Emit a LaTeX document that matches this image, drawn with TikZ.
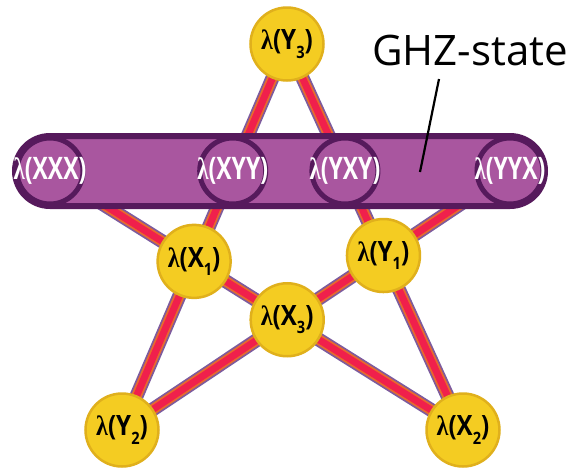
\documentclass[tikz,border=0pt]{standalone}
\usepackage{fontspec}
\setmainfont{Open Sans}
\newfontfamily\ylwfont[FakeStretch=0.86]{Open Sans}
\newfontfamily\ylwlam[FakeStretch=0.86]{Liberation Serif}
\newfontfamily\narrowfont[FakeStretch=0.74]{Open Sans}
\newfontfamily\narrowlam[FakeStretch=0.74]{Liberation Serif}

\definecolor{ylw}{HTML}{F4CC22}
\definecolor{ylwedge}{HTML}{E0B01C}
\definecolor{pfill}{HTML}{A9569F}
\definecolor{pdark}{HTML}{561A5C}
\definecolor{beamred}{HTML}{F0204C}
\definecolor{beamorange}{HTML}{E86A2C}
\definecolor{beampurple}{HTML}{7D5B9E}

\pgfdeclarelayer{beams}
\pgfdeclarelayer{bar}
\pgfsetlayers{beams,bar,main}

% yellow label: lambda(<letter><index>)
\newcommand\ylab[2]{\fontsize{28}{28}\selectfont\ylwfont\bfseries{\ylwlam λ}(#1\raisebox{-0.3em}{\fontsize{17}{17}\selectfont #2})}
% purple label: lambda(<triple>)
\newcommand\plab[1]{\fontsize{31}{31}\selectfont\narrowfont\bfseries{\narrowlam λ}(#1)}

\begin{document}
\begin{tikzpicture}[x=1pt,y=-1pt,
  beam/.style={draw=beamred, line width=7pt,
    preaction={draw=beampurple, line width=14pt},
    preaction={draw=beamorange, line width=10.5pt}},
  ynode/.style={circle, fill=ylw, draw=ylwedge, line width=2.5pt,
    minimum size=73pt, inner sep=0pt},
  pnode/.style={circle, fill=pfill, draw=pdark, line width=5pt,
    minimum size=66pt, inner sep=0pt},
  ytext/.style={text=black, inner sep=0pt},
  ptext/.style={text=white, inner sep=0pt},
  pointer/.style={draw=black, line width=2.2pt}]

\begin{pgfonlayer}{beams}
\fill[white] (0,0) rectangle (574,469);
\end{pgfonlayer}
\useasboundingbox (0,0) rectangle (574,469);

% outer points of the pentagram
\coordinate (pY3)  at (287,44);
\coordinate (pXXX) at (50,171);
\coordinate (pYYX) at (510,171);
\coordinate (pY2)  at (122,430);
\coordinate (pX2)  at (463,430);

% inner crossings
\coordinate (pX1) at (intersection of pY3--pY2 and pXXX--pX2);
\coordinate (pY1) at (intersection of pY3--pX2 and pYYX--pY2);
\coordinate (pX3) at (intersection of pXXX--pX2 and pYYX--pY2);
\coordinate (pXYY) at (intersection of pY3--pY2 and pXXX--pYYX);
\coordinate (pYXY) at (intersection of pY3--pX2 and pXXX--pYYX);

% purple nodes on the bar
\node[pnode] (XXX) at (pXXX) {};
\node[pnode] (YYX) at (pYYX) {};
\node[pnode] (XYY) at (pXYY) {};
\node[pnode] (YXY) at (pYXY) {};

% yellow nodes
\node[ynode] (Y3) at (pY3) {};
\node[ynode] (Y2) at (pY2) {};
\node[ynode] (X2) at (pX2) {};
\node[ynode] (X1) at (pX1) {};
\node[ynode] (Y1) at (pY1) {};
\node[ynode] (X3) at (pX3) {};

% beams of the star
\begin{pgfonlayer}{beams}
\draw[beam] (Y3.center) -- (Y2.center);
\draw[beam] (Y3.center) -- (X2.center);
\draw[beam] (XXX.center) -- (X2.center);
\draw[beam] (YYX.center) -- (Y2.center);
\draw[beam] (XXX.center) -- (YYX.center);
\end{pgfonlayer}

% GHZ bar
\begin{pgfonlayer}{bar}
\draw[fill=pfill, draw=pdark, line width=6pt]
  (50,136) -- (510,136) arc[start angle=-90, end angle=90, radius=35]
  -- (50,206) arc[start angle=90, end angle=270, radius=35] -- cycle;
\end{pgfonlayer}

% labels
\node[ytext] (tY3) at (Y3) {\ylab{Y}{3}};
\node[ytext] (tY2) at (Y2) {\ylab{Y}{2}};
\node[ytext] (tX2) at (X2) {\ylab{X}{2}};
\node[ytext] (tX1) at (X1) {\ylab{X}{1}};
\node[ytext] (tY1) at (Y1) {\ylab{Y}{1}};
\node[ytext] (tX3) at (X3) {\ylab{X}{3}};
\node[ptext] (tXXX) at (XXX) {\plab{XXX}};
\node[ptext] (tXYY) at (XYY) {\plab{XYY}};
\node[ptext] (tYXY) at (YXY) {\plab{YXY}};
\node[ptext] (tYYX) at (YYX) {\plab{YYX}};

% GHZ-state callout
\node[inner sep=0pt, anchor=base] (ghz) at (470,65)
  {\fontsize{42}{42}\selectfont GHZ-state};
\coordinate (ptop) at (439,79);
\coordinate (ptip) at (420,172);
\draw[pointer] (ptop) -- (ptip);
\end{tikzpicture}
\end{document}
